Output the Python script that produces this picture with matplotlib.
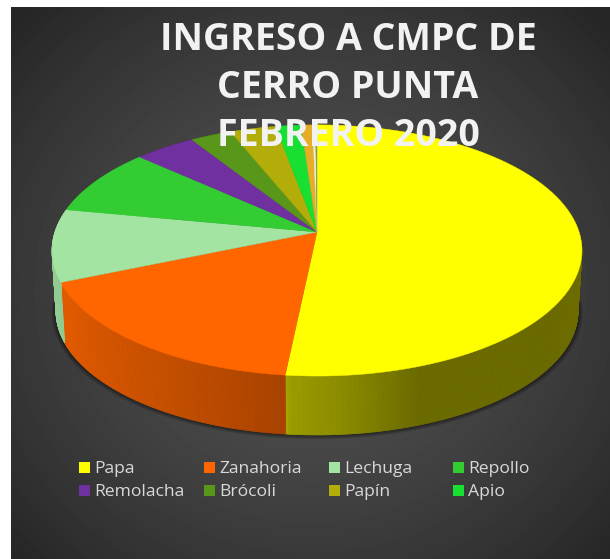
import numpy as np
import matplotlib
matplotlib.use("Agg")
import matplotlib.pyplot as plt
from matplotlib.collections import PolyCollection
from matplotlib.patches import Rectangle

title = "INGRESO A CMPC DE\nCERRO PUNTA\nFEBRERO 2020"
names = ["Papa", "Zanahoria", "Lechuga", "Repollo", "Remolacha", "Brócoli", "Papín", "Apio"]
values = [51.6, 17.0, 9.3, 8.7, 4.3, 2.9, 3.2, 1.8]
colors = ["#ffff00", "#ff6600", "#a3e4a3", "#33cc33", "#7030a0", "#58971a", "#b3ad0a", "#17e033"]
# thin slices at the top that the legend does not list
other_values = [0.8, 0.2, 0.1]
other_colors = ["#e6ad28", "#f0f0d0", "#7f9f60"]

all_values = np.array(values + other_values)
all_colors = colors + other_colors
edges = np.concatenate([[0], np.cumsum(all_values)]) / all_values.sum() * 2 * np.pi

# pie is a tilted disc, seen in perspective
cx, cy = 317, 232
R, B, k = 262, 122.8, 0.1475
depth = 61
shrink = 0.985


def project(theta, scale=1.0, down=0.0):
    u, v = np.sin(theta), np.cos(theta)
    w = 1 + k * v
    return np.column_stack([cx + scale * R * u / w, cy - scale * B * v / w + down])


def side_shade(x):
    return np.interp(x, [50, 120, 285, 290, 340, 420, 600], [0.9, 0.82, 0.66, 0.61, 0.55, 0.42, 0.42])


fig = plt.figure(figsize=(6.1, 5.59), dpi=100, facecolor="white")
ax = fig.add_axes([0, 0, 1, 1])
ax.set_xlim(0, 610)
ax.set_ylim(559, 0)
ax.axis("off")

# dark panel with a soft radial gradient
px, py = np.meshgrid(np.arange(11, 610), np.arange(7, 559))
dist = np.sqrt(((px - 310) / 400) ** 2 + ((py - 290) / 380) ** 2)
grey = np.clip(0.315 - 0.16 * dist ** 1.6, 0.15, 1)
ax.imshow(grey, cmap="gray", vmin=0, vmax=1, extent=(11, 610, 559, 7), aspect="auto", zorder=0)
ax.set_xlim(0, 610)
ax.set_ylim(559, 0)

# shadow under the pie
ring = np.linspace(0, 2 * np.pi, 300)
for off in range(6, 0, -1):
    shadow = project(ring, shrink + off * 0.003, depth + off * 0.3)
    ax.fill(shadow[:, 0], shadow[:, 1], color="black", alpha=0.09, lw=0, zorder=1)

# outer wall, one thin strip at a time
polys, face = [], []
for i in range(len(all_values)):
    n = max(2, int((edges[i + 1] - edges[i]) * 120))
    th = np.linspace(edges[i], edges[i + 1], n + 1)
    top = project(th)
    low = project(th, shrink, depth)
    base = np.array(matplotlib.colors.to_rgb(all_colors[i]))
    for j in range(n):
        polys.append([top[j], top[j + 1], low[j + 1], low[j]])
        face.append(base * side_shade((top[j, 0] + top[j + 1, 0]) / 2))
ax.add_collection(PolyCollection(polys, facecolors=face, edgecolors=face, linewidths=0.6, zorder=2))

# top face
for i in range(len(all_values)):
    n = max(2, int((edges[i + 1] - edges[i]) * 120))
    rim = project(np.linspace(edges[i], edges[i + 1], n + 1))
    pts = np.vstack([[cx, cy], rim])
    ax.fill(pts[:, 0], pts[:, 1], color=all_colors[i], lw=0.3, zorder=3)

ax.text(348, 88, title, ha="center", va="center", color="#f2f2f2", fontsize=27,
        fontweight="bold", family="Open Sans", linespacing=1.355, zorder=5)

# legend, 4 columns by 2 rows
leg_x = [79, 204, 329, 453]
leg_y = [468, 491]
for i, name in enumerate(names):
    x, y = leg_x[i % 4], leg_y[i // 4]
    ax.add_patch(Rectangle((x, y - 6), 11, 11, color=colors[i], lw=0, zorder=5))
    ax.text(x + 15.5, y + 1, name, ha="left", va="center", color="#d9d9d9", fontsize=12.6,
            family="Open Sans", zorder=5)

fig.savefig("out.png", dpi=100, facecolor="white")
